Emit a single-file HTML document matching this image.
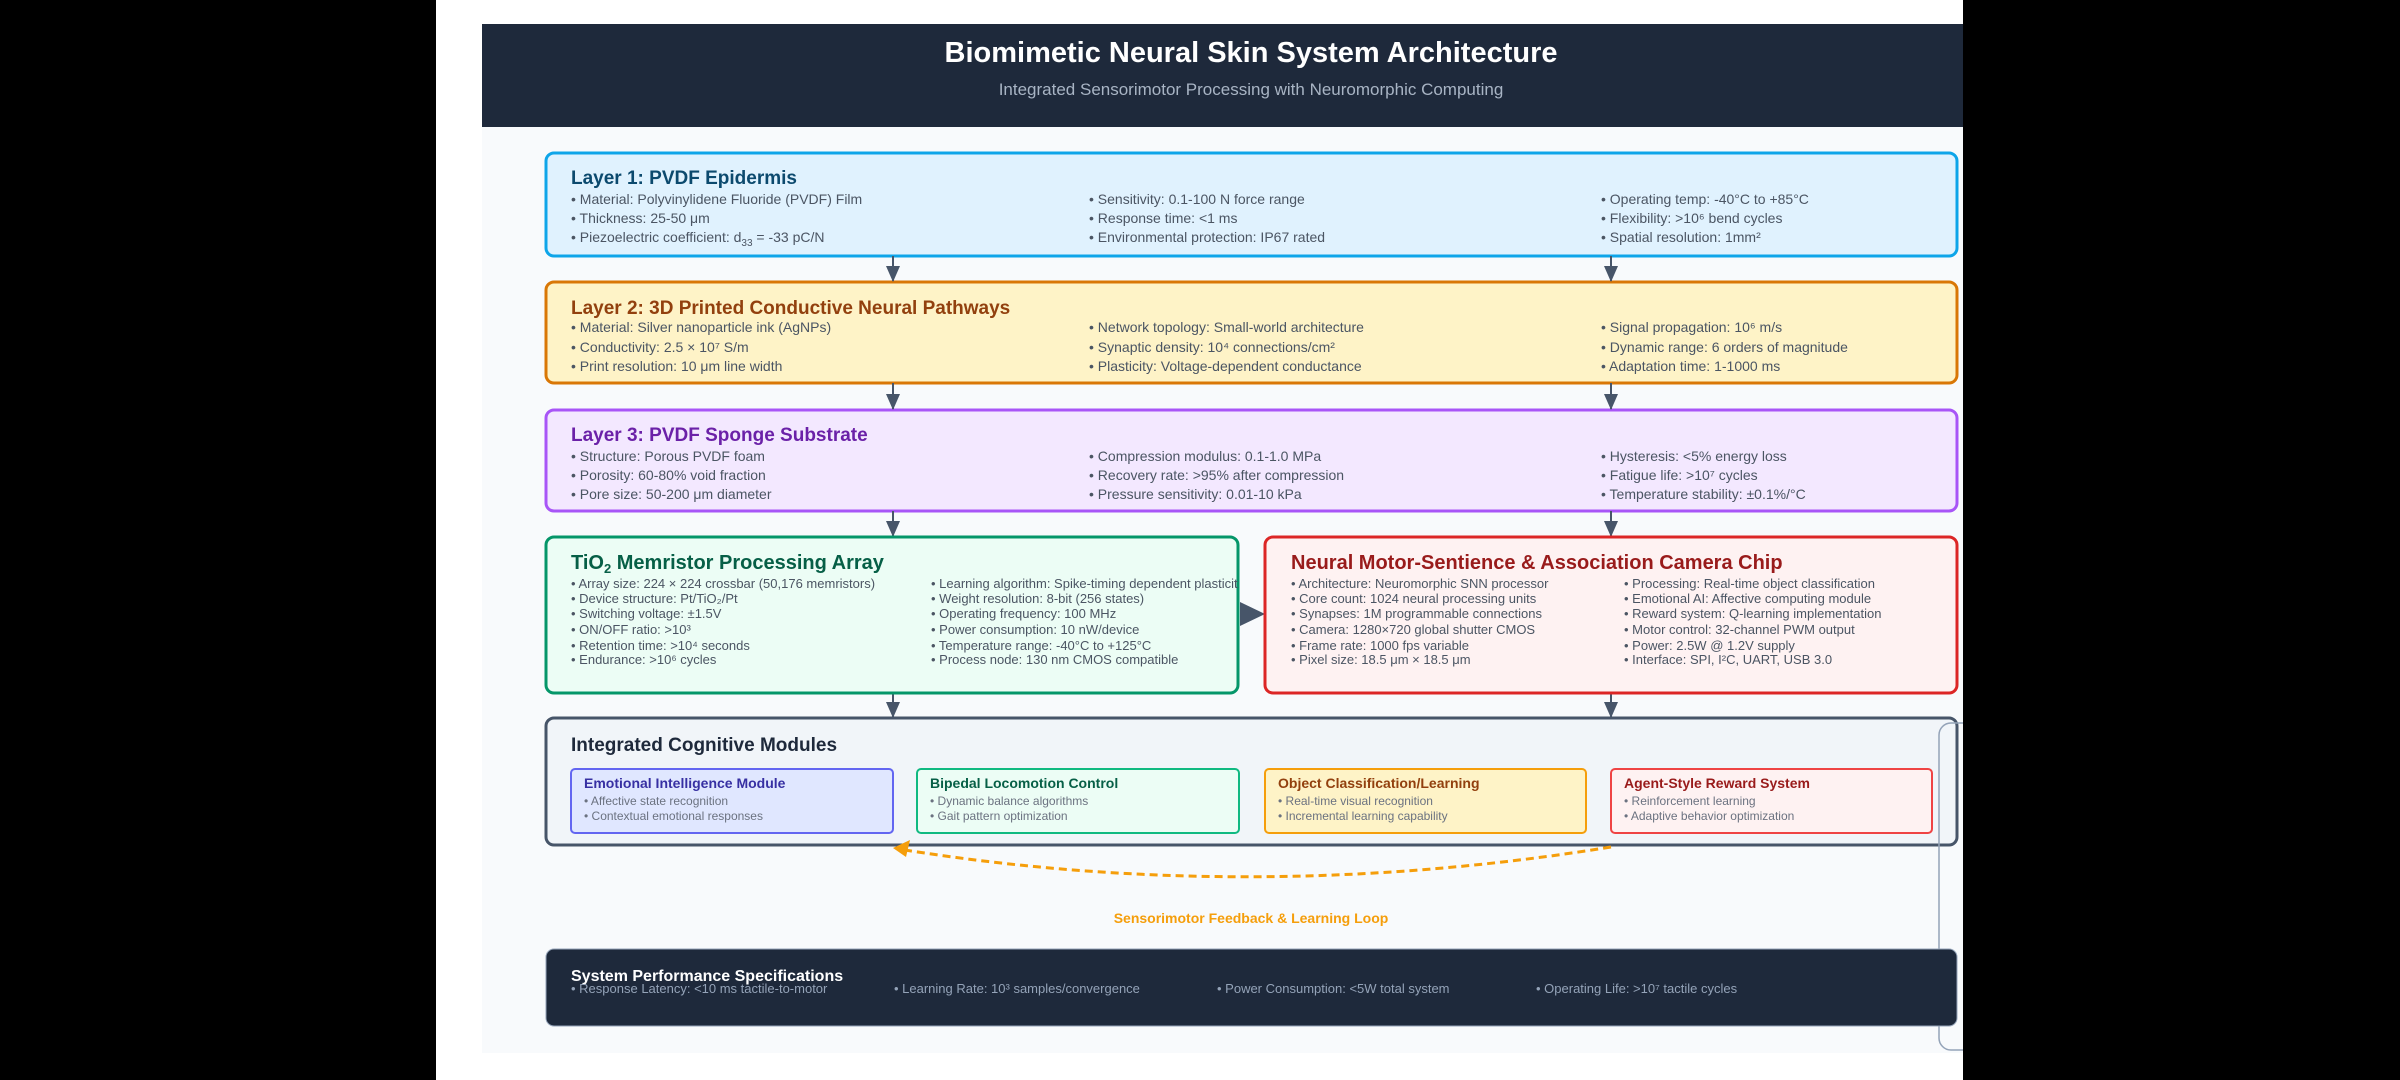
<!DOCTYPE html>
<html><head><meta charset="utf-8"><style>
html,body{margin:0;padding:0;background:#000;}
svg{display:block;font-family:"Liberation Sans",sans-serif;}
.b{fill:#4b5563;font-size:14px;}
.s{fill:#4b5563;font-size:13px;}
.t{font-size:19px;font-weight:bold;}
.m{fill:#6b7280;font-size:12px;}
.st{font-size:14px;font-weight:bold;}
</style></head><body>
<svg width="2400" height="1080" viewBox="0 0 2400 1080" xmlns="http://www.w3.org/2000/svg">
<defs>
<marker id="ah" markerWidth="16" markerHeight="16" refX="15" refY="7" orient="auto" markerUnits="userSpaceOnUse"><path d="M0,0 L16,7 L0,14 z" fill="#475569"/></marker>
<clipPath id="mc"><rect x="546" y="537" width="692" height="156"/></clipPath>
<clipPath id="wc"><rect x="436" y="0" width="1527" height="1080"/></clipPath>
</defs>
<rect x="0" y="0" width="2400" height="1080" fill="#000"/>
<rect x="436" y="0" width="1527" height="1080" fill="#fff"/>
<rect x="482" y="127" width="1481" height="926" fill="#f8fafc"/>
<rect x="482" y="24" width="1481" height="103" fill="#1e293b"/>
<text x="1251" y="62" text-anchor="middle" fill="#fff" font-size="29" font-weight="bold">Biomimetic Neural Skin System Architecture</text>
<text x="1251" y="95" text-anchor="middle" fill="#a8b4c4" font-size="17">Integrated Sensorimotor Processing with Neuromorphic Computing</text>

<!-- Layer 1 -->
<rect x="546" y="153" width="1411" height="103" rx="8" fill="#e0f2fe" stroke="#0ea5e9" stroke-width="3"/>
<text x="571" y="184" class="t" fill="#0c4a6e">Layer 1: PVDF Epidermis</text>
<text class="b" x="571" y="204">• Material: Polyvinylidene Fluoride (PVDF) Film</text>
<text class="b" x="571" y="223">• Thickness: 25-50 μm</text>
<text class="b" x="571" y="242">• Piezoelectric coefficient: d<tspan font-size="10" dy="4">33</tspan><tspan dy="-4"> = -33 pC/N</tspan></text>
<text class="b" x="1089" y="204">• Sensitivity: 0.1-100 N force range</text>
<text class="b" x="1089" y="223">• Response time: &lt;1 ms</text>
<text class="b" x="1089" y="242">• Environmental protection: IP67 rated</text>
<text class="b" x="1601" y="204">• Operating temp: -40°C to +85°C</text>
<text class="b" x="1601" y="223">• Flexibility: &gt;10⁶ bend cycles</text>
<text class="b" x="1601" y="242">• Spatial resolution: 1mm²</text>

<!-- Layer 2 -->
<rect x="546" y="282" width="1411" height="101" rx="8" fill="#fef3c7" stroke="#d97706" stroke-width="3"/>
<text x="571" y="314" class="t" fill="#92400e">Layer 2: 3D Printed Conductive Neural Pathways</text>
<text class="b" x="571" y="332">• Material: Silver nanoparticle ink (AgNPs)</text>
<text class="b" x="571" y="352">• Conductivity: 2.5 × 10⁷ S/m</text>
<text class="b" x="571" y="371">• Print resolution: 10 μm line width</text>
<text class="b" x="1089" y="332">• Network topology: Small-world architecture</text>
<text class="b" x="1089" y="352">• Synaptic density: 10⁴ connections/cm²</text>
<text class="b" x="1089" y="371">• Plasticity: Voltage-dependent conductance</text>
<text class="b" x="1601" y="332">• Signal propagation: 10⁶ m/s</text>
<text class="b" x="1601" y="352">• Dynamic range: 6 orders of magnitude</text>
<text class="b" x="1601" y="371">• Adaptation time: 1-1000 ms</text>

<!-- Layer 3 -->
<rect x="546" y="410" width="1411" height="101" rx="8" fill="#f3e8ff" stroke="#a855f7" stroke-width="3"/>
<text x="571" y="441" class="t" fill="#6b21a8">Layer 3: PVDF Sponge Substrate</text>
<text class="b" x="571" y="461">• Structure: Porous PVDF foam</text>
<text class="b" x="571" y="480">• Porosity: 60-80% void fraction</text>
<text class="b" x="571" y="499">• Pore size: 50-200 μm diameter</text>
<text class="b" x="1089" y="461">• Compression modulus: 0.1-1.0 MPa</text>
<text class="b" x="1089" y="480">• Recovery rate: &gt;95% after compression</text>
<text class="b" x="1089" y="499">• Pressure sensitivity: 0.01-10 kPa</text>
<text class="b" x="1601" y="461">• Hysteresis: &lt;5% energy loss</text>
<text class="b" x="1601" y="480">• Fatigue life: &gt;10⁷ cycles</text>
<text class="b" x="1601" y="499">• Temperature stability: ±0.1%/°C</text>

<!-- arrows between layers -->
<g stroke="#475569" stroke-width="2" marker-end="url(#ah)">
<line x1="893" y1="256" x2="893" y2="281"/><line x1="1611" y1="256" x2="1611" y2="281"/>
<line x1="893" y1="383" x2="893" y2="409"/><line x1="1611" y1="383" x2="1611" y2="409"/>
<line x1="893" y1="511" x2="893" y2="536"/><line x1="1611" y1="511" x2="1611" y2="536"/>
<line x1="893" y1="693" x2="893" y2="717"/><line x1="1611" y1="693" x2="1611" y2="717"/>
</g>

<!-- Memristor -->
<rect x="546" y="537" width="692" height="156" rx="8" fill="#ecfdf5" stroke="#059669" stroke-width="3"/>
<text x="571" y="569" font-size="20" font-weight="bold" fill="#065f46">TiO<tspan font-size="13" dy="4">2</tspan><tspan dy="-4"> Memristor Processing Array</tspan></text>
<g clip-path="url(#mc)">
<text class="s" x="571" y="588">• Array size: 224 × 224 crossbar (50,176 memristors)</text>
<text class="s" x="571" y="603">• Device structure: Pt/TiO₂/Pt</text>
<text class="s" x="571" y="618">• Switching voltage: ±1.5V</text>
<text class="s" x="571" y="634">• ON/OFF ratio: &gt;10³</text>
<text class="s" x="571" y="650">• Retention time: &gt;10⁴ seconds</text>
<text class="s" x="571" y="664">• Endurance: &gt;10⁶ cycles</text>
<text class="s" x="931" y="588">• Learning algorithm: Spike-timing dependent plasticity</text>
<text class="s" x="931" y="603">• Weight resolution: 8-bit (256 states)</text>
<text class="s" x="931" y="618">• Operating frequency: 100 MHz</text>
<text class="s" x="931" y="634">• Power consumption: 10 nW/device</text>
<text class="s" x="931" y="650">• Temperature range: -40°C to +125°C</text>
<text class="s" x="931" y="664">• Process node: 130 nm CMOS compatible</text>
</g>
<path d="M1240,602 L1265,614 L1240,626 z" fill="#475569"/>

<!-- Camera -->
<rect x="1265" y="537" width="692" height="156" rx="8" fill="#fef2f2" stroke="#dc2626" stroke-width="3"/>
<text x="1291" y="569" font-size="20" font-weight="bold" fill="#991b1b">Neural Motor-Sentience &amp; Association Camera Chip</text>
<text class="s" x="1291" y="588">• Architecture: Neuromorphic SNN processor</text>
<text class="s" x="1291" y="603">• Core count: 1024 neural processing units</text>
<text class="s" x="1291" y="618">• Synapses: 1M programmable connections</text>
<text class="s" x="1291" y="634">• Camera: 1280×720 global shutter CMOS</text>
<text class="s" x="1291" y="650">• Frame rate: 1000 fps variable</text>
<text class="s" x="1291" y="664">• Pixel size: 18.5 μm × 18.5 μm</text>
<text class="s" x="1624" y="588">• Processing: Real-time object classification</text>
<text class="s" x="1624" y="603">• Emotional AI: Affective computing module</text>
<text class="s" x="1624" y="618">• Reward system: Q-learning implementation</text>
<text class="s" x="1624" y="634">• Motor control: 32-channel PWM output</text>
<text class="s" x="1624" y="650">• Power: 2.5W @ 1.2V supply</text>
<text class="s" x="1624" y="664">• Interface: SPI, I²C, UART, USB 3.0</text>

<!-- Cognitive -->
<rect x="546" y="718" width="1411" height="127" rx="8" fill="#f1f5f9" stroke="#475569" stroke-width="3"/>
<text x="571" y="751" font-size="19" font-weight="bold" fill="#1e293b">Integrated Cognitive Modules</text>
<rect x="571" y="769" width="322" height="64" rx="4" fill="#e0e7ff" stroke="#6366f1" stroke-width="2"/>
<text x="584" y="788" class="st" fill="#3730a3">Emotional Intelligence Module</text>
<text x="584" y="805" class="m">• Affective state recognition</text>
<text x="584" y="820" class="m">• Contextual emotional responses</text>
<rect x="917" y="769" width="322" height="64" rx="4" fill="#ecfdf5" stroke="#10b981" stroke-width="2"/>
<text x="930" y="788" class="st" fill="#065f46">Bipedal Locomotion Control</text>
<text x="930" y="805" class="m">• Dynamic balance algorithms</text>
<text x="930" y="820" class="m">• Gait pattern optimization</text>
<rect x="1265" y="769" width="321" height="64" rx="4" fill="#fef3c7" stroke="#f59e0b" stroke-width="2"/>
<text x="1278" y="788" class="st" fill="#92400e">Object Classification/Learning</text>
<text x="1278" y="805" class="m">• Real-time visual recognition</text>
<text x="1278" y="820" class="m">• Incremental learning capability</text>
<rect x="1611" y="769" width="321" height="64" rx="4" fill="#fef2f2" stroke="#ef4444" stroke-width="2"/>
<text x="1624" y="788" class="st" fill="#991b1b">Agent-Style Reward System</text>
<text x="1624" y="805" class="m">• Reinforcement learning</text>
<text x="1624" y="820" class="m">• Adaptive behavior optimization</text>

<!-- right gray outline (clipped) -->
<g clip-path="url(#wc)">
<rect x="1939" y="723" width="60" height="327" rx="12" fill="none" stroke="#94a3b8" stroke-width="1.5"/>
</g>

<!-- feedback loop -->
<path d="M1611,847 Q1252,905 905,850" fill="none" stroke="#f59e0b" stroke-width="3" stroke-dasharray="8,5"/>
<path d="M893,848 L910,840 L906,857 z" fill="#f59e0b"/>
<text x="1251" y="923" text-anchor="middle" fill="#f59e0b" font-size="14" font-weight="bold">Sensorimotor Feedback &amp; Learning Loop</text>

<!-- Spec bar -->
<rect x="546" y="949" width="1411" height="77" rx="8" fill="#1e293b" stroke="#94a3b8" stroke-width="1"/>
<text x="571" y="981" fill="#fff" font-size="16" font-weight="bold">System Performance Specifications</text>
<g fill="#94a3b8" font-size="13">
<text x="571" y="993">• Response Latency: &lt;10 ms tactile-to-motor</text>
<text x="894" y="993">• Learning Rate: 10³ samples/convergence</text>
<text x="1217" y="993">• Power Consumption: &lt;5W total system</text>
<text x="1536" y="993">• Operating Life: &gt;10⁷ tactile cycles</text>
</g>
</svg>
</body></html>
